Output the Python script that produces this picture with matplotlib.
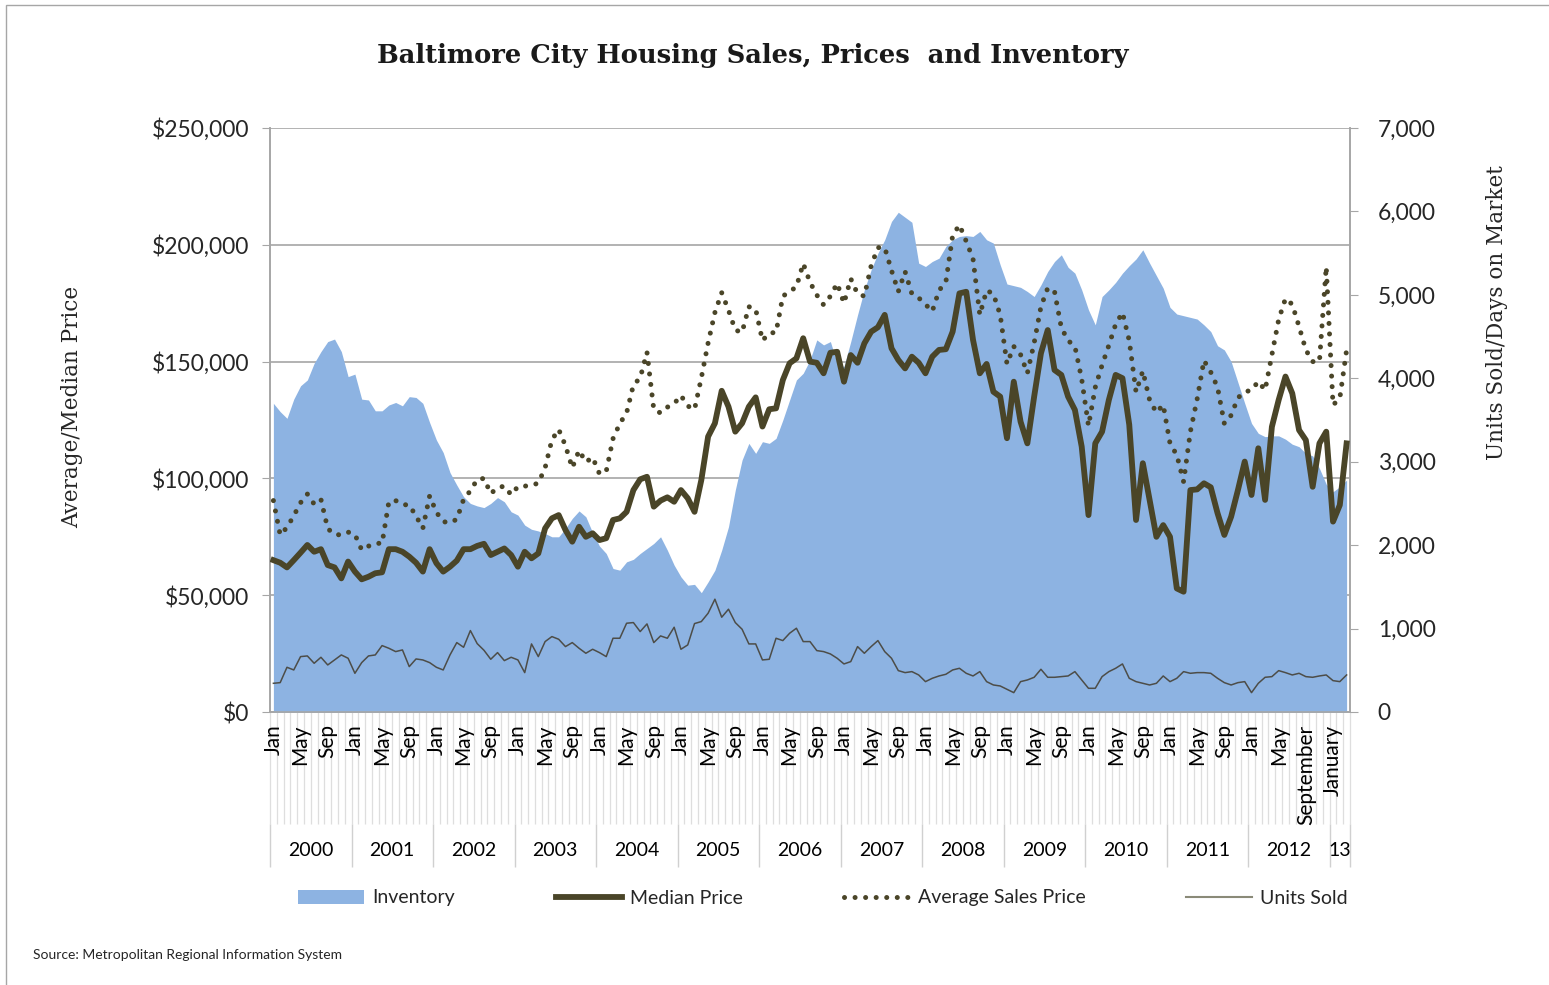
import numpy as np
import matplotlib
matplotlib.use("Agg")
import matplotlib.pyplot as plt
import matplotlib.transforms as mtransforms
from matplotlib.lines import Line2D
from matplotlib.patches import Patch, Rectangle
from matplotlib.ticker import FuncFormatter

# monthly values, Jan 2000 .. Mar 2013 (one row per year)
inventory = [
    3700, 3600, 3520, 3750, 3910, 3980, 4180, 4320, 4440, 4470, 4320, 4020,
    4050, 3750, 3740, 3610, 3610, 3680, 3710, 3670, 3780, 3770, 3700, 3470,
    3260, 3110, 2870, 2720, 2580, 2500, 2470, 2450, 2500, 2570, 2520, 2400,
    2360, 2240, 2190, 2170, 2140, 2100, 2100, 2200, 2320, 2410, 2340, 2150,
    1990, 1900, 1720, 1700, 1800, 1830, 1900, 1960, 2020, 2100, 1940, 1760,
    1620, 1520, 1530, 1430, 1560, 1700, 1940, 2220, 2660, 3020, 3220, 3100,
    3240, 3220, 3280, 3500, 3740, 3980, 4060, 4220, 4460, 4400, 4440, 4180,
    4140, 4440, 4760, 5060, 5300, 5500, 5660, 5880, 5990, 5930, 5870, 5380,
    5340, 5400, 5440, 5580, 5660, 5700, 5710, 5700, 5760, 5660, 5620, 5360,
    5130, 5110, 5090, 5040, 4980, 5120, 5280, 5400, 5480, 5330, 5260, 5060,
    4820, 4640, 4980, 5060, 5150, 5260, 5350, 5430, 5540, 5380, 5230, 5080,
    4850, 4770, 4750, 4730, 4710, 4640, 4560, 4390, 4340, 4200, 3950, 3700,
    3460, 3340, 3300, 3310, 3310, 3270, 3210, 3180, 3100, 3070, 2920, 2730,
    2640, 2700, 2780,
]

median_price = [
    65000, 63900, 61900, 65000, 68200, 71500, 68600, 69700, 62900, 61900, 57200, 64400,
    60100, 56800, 57900, 59400, 59800, 69700, 69700, 68600, 66500, 63900, 60100, 69700,
    63700, 60100, 62200, 64800, 69700, 69700, 71100, 72000, 67200, 68600, 70000, 67200,
    62200, 68600, 65800, 67900, 78600, 82900, 84300, 77900, 72900, 79300, 75000, 76500,
    73600, 74400, 82200, 82900, 85700, 95000, 99600, 100700, 87900, 90500, 91900, 90000,
    95000, 91500, 85700, 99300, 117900, 123600, 137500, 130700, 120000, 123600, 130700, 134700,
    122200, 129600, 130000, 142100, 149300, 151400, 160000, 150000, 149500, 145000, 153800, 154200,
    141400, 152800, 149500, 157800, 162800, 164700, 170000, 155700, 150700, 147100, 152100, 149500,
    145000, 152100, 155000, 155300, 162800, 179200, 179900, 159300, 145000, 149000, 137100, 135000,
    117200, 141400, 124300, 115000, 135000, 153600, 163500, 146400, 144300, 135000, 129300, 113600,
    84300, 115000, 120000, 133600, 144300, 142900, 123000, 82200, 106500, 90800, 75000, 80000,
    75000, 52900, 51500, 95000, 95300, 97900, 96200, 85100, 75800, 83600, 95000, 107200,
    92900, 112900, 90800, 122100, 133600, 143600, 136400, 120700, 116400, 96400, 115000, 120000,
    81500, 88600, 115000,
]

avg_price = [
    90500, 75800, 79000, 84000, 89600, 93300, 89000, 91000, 78500, 76000, 75800, 77000,
    76000, 69400, 71000, 72200, 72200, 90000, 90500, 88800, 88600, 83900, 78600, 92500,
    85500, 81500, 81000, 82500, 91000, 94700, 99500, 100000, 93500, 96000, 96700, 93000,
    96500, 96700, 97000, 98000, 104500, 116500, 121000, 114000, 104500, 112000, 107000, 109000,
    102000, 103000, 117000, 123500, 128000, 140000, 143000, 154000, 129500, 128000, 130500, 132000,
    135500, 131000, 129500, 143000, 158000, 171000, 179500, 172000, 163500, 162500, 173500, 172500,
    159000, 162200, 162500, 178000, 180000, 182000, 192000, 184000, 178500, 174300, 178000, 183500,
    175000, 185500, 179000, 178000, 191000, 198800, 198800, 189000, 180000, 188500, 179000, 177300,
    174500, 171500, 180500, 184000, 204000, 208500, 201500, 194000, 170000, 180500, 179000, 170000,
    149000, 156500, 153000, 145000, 158000, 173500, 181500, 180000, 164500, 159000, 156500, 142500,
    122500, 139000, 148500, 157000, 166000, 171000, 159000, 137000, 146000, 133500, 128200, 131500,
    115000, 110000, 98600, 120000, 134000, 150500, 145500, 139000, 123500, 127000, 134500, 137000,
    137800, 141500, 137800, 153000, 168000, 177000, 174500, 165000, 155000, 150000, 150000, 190600,
    131400, 134300, 155000,
]

units_sold = [
    344, 352, 536, 504, 664, 672, 584, 656, 564, 624, 684, 644,
    464, 592, 672, 684, 796, 764, 724, 744, 544, 636, 624, 592,
    536, 504, 684, 832, 776, 976, 820, 740, 632, 712, 616, 656,
    624, 472, 816, 664, 844, 904, 872, 784, 832, 764, 704, 752,
    712, 664, 884, 884, 1064, 1072, 964, 1056, 832, 912, 884, 1016,
    752, 804, 1060, 1084, 1184, 1352, 1136, 1232, 1072, 992, 816, 816,
    624, 632, 884, 856, 944, 1004, 844, 844, 736, 724, 696, 644,
    576, 604, 784, 704, 784, 856, 724, 644, 496, 472, 484, 444,
    364, 404, 432, 452, 504, 524, 464, 432, 484, 364, 324, 312,
    272, 232, 364, 384, 416, 512, 416, 416, 424, 432, 484, 384,
    284, 284, 424, 484, 524, 576, 404, 364, 344, 324, 344, 432,
    364, 404, 484, 464, 472, 472, 464, 404, 352, 324, 352, 364,
    232, 344, 416, 424, 496, 472, 444, 464, 424, 416, 432, 444,
    376, 364, 444,
]

month_labels = ["Jan", "May", "Sep"] * 12 + ["Jan", "May", "September", "January"]
year_labels = ["2000", "2001", "2002", "2003", "2004", "2005", "2006",
               "2007", "2008", "2009", "2010", "2011", "2012", "13"]

n = len(inventory)
x = np.arange(n)

fill_blue = "#8DB3E2"
line_dark = "#4A4528"
axis_grey = "#a6a6a6"
text_col = "#262626"
sans = "Lato"
serif = "DejaVu Serif"

fig = plt.figure(figsize=(15.49, 9.85), dpi=100)
pos = [270 / 1549, 1 - 712 / 985, 1080 / 1549, 584 / 985]

ax = fig.add_axes(pos)            # price scale + gridlines (bottom layer)
ax2 = ax.twinx()                  # units scale: inventory area + units sold
ax3 = fig.add_axes(pos, sharex=ax, sharey=ax)   # price lines drawn on top
ax3.patch.set_visible(False)
ax3.axis("off")

ax.set_xlim(-0.5, n - 0.5)
ax.set_ylim(0, 250000)
ax.set_yticks(np.arange(0, 250001, 50000))
ax.yaxis.set_major_formatter(FuncFormatter(lambda v, p: "${:,.0f}".format(v)))
ax.yaxis.grid(True, color=axis_grey, lw=1.2)
ax.set_axisbelow(True)

ax2.set_ylim(0, 7000)
ax2.set_yticks(np.arange(0, 7001, 1000))
ax2.yaxis.set_major_formatter(FuncFormatter(lambda v, p: "{:,.0f}".format(v)))

for a in (ax, ax2):
    a.spines["top"].set_visible(False)
    for s in ("left", "right", "bottom"):
        a.spines[s].set_color(axis_grey)
        a.spines[s].set_linewidth(1.2)

ax.tick_params(axis="y", length=6, color=axis_grey, pad=9,
               labelsize=16.5, labelcolor=text_col)
ax2.tick_params(axis="y", length=6, color=axis_grey, pad=14,
                labelsize=16.5, labelcolor=text_col)
for lab in ax.get_yticklabels() + ax2.get_yticklabels():
    lab.set_fontfamily(sans)

ax.set_xticks(range(0, n, 4))
ax.set_xticklabels(month_labels, rotation=90, fontsize=15, color="black",
                   fontfamily=sans, va="top")
ax.tick_params(axis="x", length=0, pad=9)

# multi-level category axis decorations
trans = mtransforms.blended_transform_factory(ax.transData, ax.transAxes)
ax.vlines(np.arange(n + 1) - 0.5, -0.192, 0, transform=trans,
          colors="#dedede", lw=0.9, clip_on=False, zorder=0.5)
year_edges = list(range(0, n, 12)) + [n]
ax.vlines(np.array(year_edges) - 0.5, -0.265, -0.192, transform=trans,
          colors="#d0d0d0", lw=1, clip_on=False, zorder=0.5)
for k, yl in enumerate(year_labels):
    lo, hi = year_edges[k], year_edges[k + 1]
    ax.text((lo + hi - 1) / 2, -0.238, yl, transform=trans, ha="center",
            va="center", fontsize=14, color="black", fontfamily=sans)

# series
ax2.fill_between(x, inventory, color=fill_blue, lw=0)
ax2.plot(x, units_sold, color="#4d4d48", lw=1.1)
ax3.plot(x, median_price, color=line_dark, lw=4.2)
ax3.plot(x, avg_price, color=line_dark, lw=3.6, linestyle=(0, (0.01, 2.1)),
         dash_capstyle="round")

handles = [
    Patch(facecolor=fill_blue, edgecolor="none"),
    Line2D([], [], color=line_dark, lw=4.2),
    Line2D([], [], color=line_dark, lw=3.6, linestyle=(0, (0.01, 2.1)),
           dash_capstyle="round"),
    Line2D([], [], color="#8a8a78", lw=1.5),
]
labels = ["Inventory", "Median Price", "Average Sales Price", "Units Sold"]
leg = fig.legend(handles, labels, loc="center",
                 bbox_to_anchor=(823 / 1549, 1 - 898 / 985), ncol=4,
                 frameon=False, handlelength=3.4,
                 handletextpad=0.4, columnspacing=5.2,
                 prop={"family": sans, "size": 14})
for t in leg.get_texts():
    t.set_color(text_col)

fig.text(753 / 1549, 1 - 55 / 985,
         "Baltimore City Housing Sales, Prices  and Inventory",
         ha="center", va="center", fontsize=18.5, fontweight="bold",
         fontfamily=serif, color="#1a1a1a")
fig.text(72 / 1549, 1 - 407 / 985, "Average/Median Price", rotation=90,
         ha="center", va="center", fontsize=15.5, fontfamily=serif, color=text_col)
fig.text(1497 / 1549, 1 - 313 / 985, "Units Sold/Days on Market", rotation=90,
         ha="center", va="center", fontsize=15.5, fontfamily=serif, color=text_col)
fig.text(33 / 1549, 1 - 955 / 985, "Source: Metropolitan Regional Information System",
         ha="left", va="center", fontsize=10, fontfamily=sans, color=text_col)

fig.add_artist(Rectangle((6 / 1549, -0.01), 1.0, 1 - 5 / 985 + 0.01,
                         transform=fig.transFigure, fill=False,
                         edgecolor=axis_grey, lw=1))

fig.savefig("out.png", dpi=100)
